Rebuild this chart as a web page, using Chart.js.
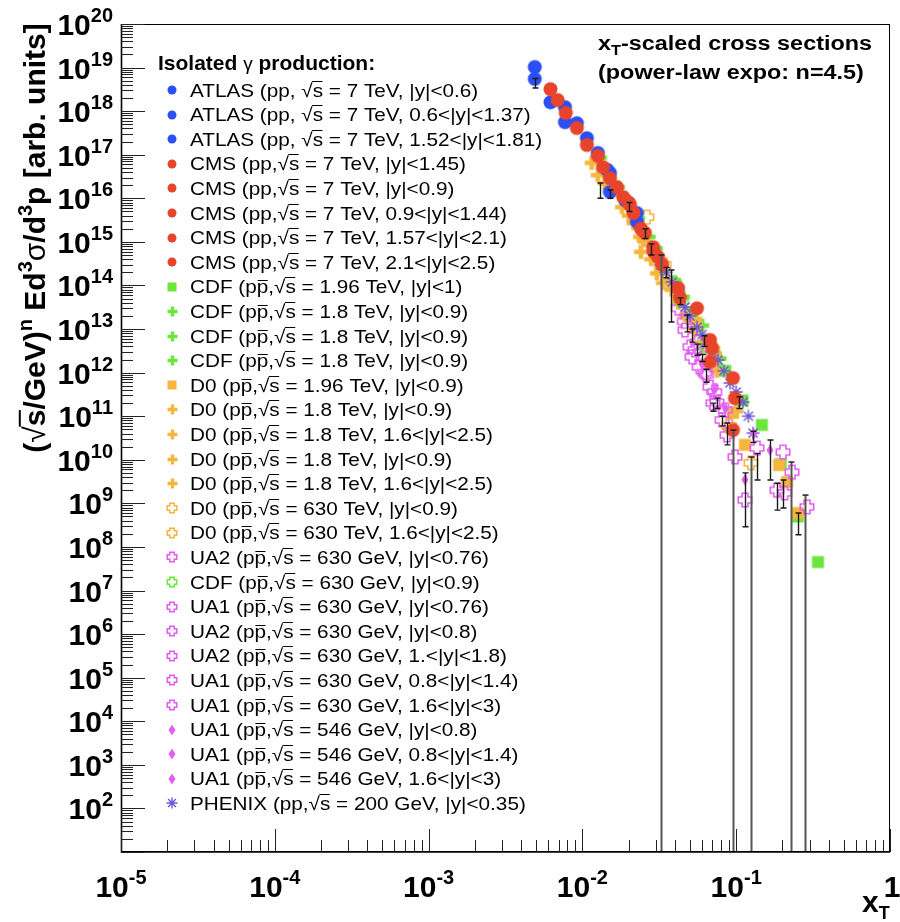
<!DOCTYPE html>
<html>
<head>
<meta charset="utf-8">
<title>xT-scaled isolated photon cross sections</title>
<script src="https://cdn.jsdelivr.net/npm/chart.js@4.4.1/dist/chart.umd.min.js"></script>
<style>
  html, body { margin: 0; padding: 0; background: #fff; }
  canvas { display: block; }
</style>
</head>
<body>
<canvas id="xtChart" width="900" height="922"></canvas>
<script>
(function () {
  const FONT = '"Liberation Sans", Arial, Helvetica, sans-serif';

  const BLUE = "#2b4ff5", RED = "#e8432b", GREEN = "#6de63c",
        ORANGE = "#f6b53d", MAGENTA = "#e35ef0", SLATE = "#6a5ad8";

  // [xT, (sqrt(s)/GeV)^n E d3sigma/d3p]
  const atlas06 = [[0.0049, 1.03e19], [0.0077, 1.24e18], [0.0107, 2.4e17], [0.0145, 4.5e16], [0.0226, 4.6e15]];
  const atlas06to137 = [[0.0049, 5.5e18], [0.0062, 1.6e18], [0.0092, 5.3e17], [0.0126, 1.1e17], [0.0151, 1.4e16], [0.0226, 2.9e15]];
  const atlas152to181 = [[0.0077, 5.6e17], [0.0151, 3.8e16], [0.0190, 9.0e15]];

  const cms145 = [[0.0062, 3.2e18], [0.0069, 1.8e18], [0.0078, 9.1e17], [0.0092, 4.1e17], [0.0107, 1.67e17],
                  [0.0126, 9.4e16], [0.0136, 5.2e16], [0.0151, 2.9e16], [0.0168, 1.8e16], [0.0184, 1.07e16],
                  [0.0204, 7.0e15], [0.0215, 4.6e15], [0.0255, 1.6e15]];
  const cms09 = [[0.0288, 7.6e14], [0.0310, 4.5e14], [0.0419, 8.7e13], [0.0431, 5.2e13], [0.0556, 3.0e13],
                 [0.0676, 5.6e12], [0.0697, 3.7e12], [0.0953, 7.5e11]];
  const cms09to144 = [[0.0676, 1.75e12], [0.0982, 2.6e11], [0.0953, 4.8e10]];
  const cms157to21 = [[0.0240, 2.0e15], [0.0330, 3.0e14]];
  const cms21to25 = [[0.0200, 8.0e15], [0.0290, 6.0e14]];

  const cdf196 = [[0.0300, 6.0e14], [0.0400, 1.1e14], [0.0520, 2.4e13], [0.0660, 5.5e12], [0.0850, 1.1e12],
                  [0.1100, 2.3e11], [0.1470, 6.3e10], [0.1950, 8.0e9], [0.2520, 5.0e8], [0.3400, 4.5e7]];
  const cdf18a = [[0.0130, 8.5e16], [0.0170, 1.8e16], [0.0230, 3.5e15], [0.0300, 7.0e14], [0.0400, 1.2e14]];
  const cdf18b = [[0.0150, 3.2e16], [0.0200, 7.5e15], [0.0270, 1.3e15]];
  const cdf18c = [[0.0450, 5.5e13], [0.0600, 1.2e13], [0.0780, 2.1e12]];

  const d0196 = [[0.0320, 2.6e14], [0.0420, 6.0e13], [0.0550, 1.4e13], [0.0720, 3.0e12], [0.0953, 1.2e11],
                 [0.1140, 2.2e10], [0.1900, 7.6e9], [0.2140, 3.1e9], [0.2520, 6.0e8]];
  const d018a = [[0.0115, 6.5e16], [0.0126, 3.4e16], [0.0181, 6.3e15], [0.0215, 2.7e15], [0.0237, 1.3e15], [0.0305, 1.9e14]];
  const d018b = [[0.0240, 5.9e14], [0.0334, 1.14e14], [0.0465, 2.1e13], [0.0540, 9.5e12]];
  const d018c = [[0.0140, 2.2e16], [0.0165, 1.6e16], [0.0200, 4.0e15], [0.0250, 1.1e15], [0.0280, 4.0e14],
                 [0.0360, 1.3e14], [0.0380, 8.0e13], [0.0480, 1.8e13]];
  const d018d = [[0.0420, 4.0e13], [0.0600, 5.0e12], [0.0750, 1.1e12], [0.1000, 1.3e11]];
  const d0630a = [[0.0263, 3.7e15], [0.0340, 3.0e14], [0.0720, 2.5e12]];
  const d0630b = [[0.1248, 8.5e9], [0.0900, 6.0e10]];

  const ua2630a = [[0.0501, 3.9e12], [0.0575, 1.35e12], [0.0676, 4.7e11], [0.0871, 3.7e10], [0.1365, 1.87e10]];
  const cdf630 = [[0.0440, 4.5e13], [0.0640, 4.0e12]];
  const ua1630a = [[0.0516, 2.3e12], [0.0706, 2.0e11], [0.0982, 1.16e10], [0.1140, 1.2e9]];
  const ua2630b = [[0.0610, 2.2e12], [0.0809, 8.2e10], [0.2015, 1.5e10], [0.2307, 5.2e9]];
  const ua2630c = [[0.0750, 2.1e11], [0.1840, 2.0e9], [0.2063, 1.73e9]];
  const ua1630b = [[0.0460, 1.5e13], [0.0465, 9.5e12], [0.0540, 3.3e12], [0.0625, 1.0e12], [0.0640, 9.0e11],
                   [0.0725, 3.6e11], [0.0850, 1.4e11], [0.2886, 8.3e8]];
  const ua1630c = [[0.0420, 3.0e13], [0.0560, 5.0e12], [0.0900, 6.0e10]];
  const ua1546a = [[0.1140, 3.5e9], [0.0600, 1.6e12]];
  const ua1546b = [[0.1660, 1.67e10], [0.0850, 1.5e11]];
  const ua1546c = [[0.0720, 4.0e11], [0.1300, 4.0e10]];

  const phenix = [[0.0324, 2.95e14], [0.0350, 2.0e14], [0.0383, 1.2e14], [0.0420, 7.0e13], [0.0465, 3.2e13],
                  [0.0500, 2.0e13], [0.0556, 1.1e13], [0.0600, 7.5e12], [0.0650, 4.5e12], [0.0700, 3.0e12],
                  [0.0762, 1.95e12], [0.0830, 1.1e12], [0.0912, 5.8e11], [0.1000, 3.6e11], [0.1107, 2.1e11],
                  [0.1200, 1.0e11], [0.1286, 4.1e10]];

  // error bars: [xT, low, high]; low 0 = runs off the bottom of the log axis
  const errBars = [[0.0049, 3.4e18, 5.6e18], [0.0130, 1.0e16, 2.25e16], [0.0151, 1.0e16, 1.55e16],
                   [0.0200, 5.0e15, 8.0e15], [0.0255, 1.2e15, 2.0e15], [0.0280, 5.0e14, 9.0e14],
                   [0.0324, 0, 5.0e14], [0.0350, 1.5e14, 2.6e14],
                   [0.0377, 1.45e13, 2.26e14], [0.0431, 3.6e13, 5.2e13], [0.0479, 8.6e12, 2.1e13],
                   [0.0516, 5.0e12, 1.0e13], [0.0556, 2.5e12, 4.5e12], [0.0600, 1.8e12, 2.6e12],
                   [0.0620, 4.0e12, 7.0e12], [0.0640, 6.0e11, 1.2e12], [0.0706, 1.3e11, 2.0e11],
                   [0.0750, 1.5e11, 2.6e11], [0.0809, 6.0e10, 1.0e11], [0.0871, 2.2e10, 7.0e10],
                   [0.0953, 0, 4.8e10], [0.1050, 1.5e11, 2.8e11], [0.1140, 2.9e8, 5.0e9], [0.1248, 0, 1.16e10],
                   [0.1286, 2.5e10, 4.5e10], [0.1365, 3.45e9, 1.4e10], [0.1660, 3.45e9, 2.85e10],
                   [0.1840, 7.0e8, 2.9e9], [0.2015, 7.8e8, 3.45e9], [0.2270, 0, 8.9e9],
                   [0.2520, 1.9e8, 6.0e8], [0.2800, 0, 1.55e9]];

  const xDecades = [1e-5, 1e-4, 1e-3, 1e-2, 1e-1, 1];
  const xDecadeText = [["10", "-5"], ["10", "-4"], ["10", "-3"], ["10", "-2"], ["10", "-1"], ["1", ""]];
  const yDecades = [1e1, 1e2, 1e3, 1e4, 1e5, 1e6, 1e7, 1e8, 1e9, 1e10, 1e11, 1e12, 1e13, 1e14, 1e15,
                    1e16, 1e17, 1e18, 1e19, 1e20];
  const yDecadeText = ["", "2", "3", "4", "5", "6", "7", "8", "9", "10", "11", "12", "13", "14", "15",
                       "16", "17", "18", "19", "20"];
  const minorMult = [2, 3, 4, 5, 6, 7, 8, 9];

  // legend order = dataset order; z = drawing layer (0 on top)
  const series = [
    { label: "ATLAS (pp, √s = 7 TeV, |y|<0.6)", pts: atlas06, mk: "circle", color: BLUE, z: 1 },
    { label: "ATLAS (pp, √s = 7 TeV, 0.6<|y|<1.37)", pts: atlas06to137, mk: "circle", color: BLUE, z: 1 },
    { label: "ATLAS (pp, √s = 7 TeV, 1.52<|y|<1.81)", pts: atlas152to181, mk: "circle", color: BLUE, z: 1 },
    { label: "CMS (pp,√s = 7 TeV, |y|<1.45)", pts: cms145, mk: "circle", color: RED, z: 0 },
    { label: "CMS (pp,√s = 7 TeV, |y|<0.9)", pts: cms09, mk: "circle", color: RED, z: 0 },
    { label: "CMS (pp,√s = 7 TeV, 0.9<|y|<1.44)", pts: cms09to144, mk: "circle", color: RED, z: 0 },
    { label: "CMS (pp,√s = 7 TeV, 1.57<|y|<2.1)", pts: cms157to21, mk: "circle", color: RED, z: 0 },
    { label: "CMS (pp,√s = 7 TeV, 2.1<|y|<2.5)", pts: cms21to25, mk: "circle", color: RED, z: 0 },
    { label: "CDF (pp\u0304,√s = 1.96 TeV, |y|<1)", pts: cdf196, mk: "square", color: GREEN, z: 5 },
    { label: "CDF (pp\u0304,√s = 1.8 TeV, |y|<0.9)", pts: cdf18a, mk: "cross", color: GREEN, z: 5 },
    { label: "CDF (pp\u0304,√s = 1.8 TeV, |y|<0.9)", pts: cdf18b, mk: "cross", color: GREEN, z: 5 },
    { label: "CDF (pp\u0304,√s = 1.8 TeV, |y|<0.9)", pts: cdf18c, mk: "cross", color: GREEN, z: 5 },
    { label: "D0 (pp\u0304,√s = 1.96 TeV, |y|<0.9)", pts: d0196, mk: "square", color: ORANGE, z: 4 },
    { label: "D0 (pp\u0304,√s = 1.8 TeV, |y|<0.9)", pts: d018a, mk: "cross", color: ORANGE, z: 4 },
    { label: "D0 (pp\u0304,√s = 1.8 TeV, 1.6<|y|<2.5)", pts: d018b, mk: "cross", color: ORANGE, z: 4 },
    { label: "D0 (pp\u0304,√s = 1.8 TeV, |y|<0.9)", pts: d018c, mk: "cross", color: ORANGE, z: 4 },
    { label: "D0 (pp\u0304,√s = 1.8 TeV, 1.6<|y|<2.5)", pts: d018d, mk: "cross", color: ORANGE, z: 4 },
    { label: "D0 (pp\u0304,√s = 630 TeV, |y|<0.9)", pts: d0630a, mk: "ocross", color: ORANGE, z: 3 },
    { label: "D0 (pp\u0304,√s = 630 TeV, 1.6<|y|<2.5)", pts: d0630b, mk: "ocross", color: ORANGE, z: 3 },
    { label: "UA2 (pp\u0304,√s = 630 GeV, |y|<0.76)", pts: ua2630a, mk: "ocross", color: MAGENTA, z: 3 },
    { label: "CDF (pp\u0304,√s = 630 GeV, |y|<0.9)", pts: cdf630, mk: "ocross", color: GREEN, z: 3 },
    { label: "UA1 (pp\u0304,√s = 630 GeV, |y|<0.76)", pts: ua1630a, mk: "ocross", color: MAGENTA, z: 3 },
    { label: "UA2 (pp\u0304,√s = 630 GeV, |y|<0.8)", pts: ua2630b, mk: "ocross", color: MAGENTA, z: 3 },
    { label: "UA2 (pp\u0304,√s = 630 GeV, 1.<|y|<1.8)", pts: ua2630c, mk: "ocross", color: MAGENTA, z: 3 },
    { label: "UA1 (pp\u0304,√s = 630 GeV, 0.8<|y|<1.4)", pts: ua1630b, mk: "ocross", color: MAGENTA, z: 3 },
    { label: "UA1 (pp\u0304,√s = 630 GeV, 1.6<|y|<3)", pts: ua1630c, mk: "ocross", color: MAGENTA, z: 3 },
    { label: "UA1 (pp\u0304,√s = 546 GeV, |y|<0.8)", pts: ua1546a, mk: "diamond", color: MAGENTA, z: 2 },
    { label: "UA1 (pp\u0304,√s = 546 GeV, 0.8<|y|<1.4)", pts: ua1546b, mk: "diamond", color: MAGENTA, z: 2 },
    { label: "UA1 (pp\u0304,√s = 546 GeV, 1.6<|y|<3)", pts: ua1546c, mk: "diamond", color: MAGENTA, z: 2 },
    { label: "PHENIX (pp,√s = 200 GeV, |y|<0.35)", pts: phenix, mk: "star", color: SLATE, z: 2 }
  ];

  const dataSize = { circle: 14, square: 12, cross: 14, ocross: 15, diamond: 12, star: 13 };
  const legendSize = { circle: 9, square: 9, cross: 10, ocross: 11, diamond: 11, star: 11 };

  // ROOT-like marker drawn into a small canvas, used as pointStyle
  function marker(kind, color, s) {
    const w = kind === "diamond" ? Math.round(s * 0.62) : s;
    const c = document.createElement("canvas");
    c.width = w + 3; c.height = s + 3;
    const g = c.getContext("2d");
    g.translate(c.width / 2, c.height / 2);
    g.fillStyle = color; g.strokeStyle = color;
    const a = s / 2;
    if (kind === "circle") {
      g.beginPath(); g.arc(0, 0, a, 0, 2 * Math.PI); g.fill();
    } else if (kind === "square") {
      g.fillRect(-a, -a, s, s);
    } else if (kind === "cross" || kind === "ocross") {
      const open = kind === "ocross";
      const r = open ? a - 0.8 : a;
      const b = open ? s * 0.2 : s / 6;
      g.beginPath();
      g.moveTo(-b, -r); g.lineTo(b, -r); g.lineTo(b, -b); g.lineTo(r, -b); g.lineTo(r, b); g.lineTo(b, b);
      g.lineTo(b, r); g.lineTo(-b, r); g.lineTo(-b, b); g.lineTo(-r, b); g.lineTo(-r, -b); g.lineTo(-b, -b);
      g.closePath();
      if (open) { g.lineWidth = 1.6; g.stroke(); } else { g.fill(); }
    } else if (kind === "diamond") {
      g.beginPath(); g.moveTo(0, -a); g.lineTo(w / 2, 0); g.lineTo(0, a); g.lineTo(-w / 2, 0); g.closePath(); g.fill();
    } else if (kind === "star") {
      g.lineWidth = 1.4;
      g.beginPath();
      for (let k = 0; k < 4; k++) {
        const ang = k * Math.PI / 4;
        g.moveTo(-a * Math.cos(ang), -a * Math.sin(ang));
        g.lineTo(a * Math.cos(ang), a * Math.sin(ang));
      }
      g.stroke();
    }
    return c;
  }

  series.forEach((s) => { s.legendMk = marker(s.mk, s.color, legendSize[s.mk]); });

  // split text so that p-bar and the radical bar over s can be drawn
  function parseLabel(str) {
    const chars = Array.from(str);
    const parts = [];
    let buf = "";
    const flush = () => { if (buf) { parts.push({ t: buf }); buf = ""; } };
    for (let i = 0; i < chars.length; i++) {
      const c = chars[i];
      if (chars[i + 1] === "\u0304") { flush(); parts.push({ t: c, over: "macron" }); i++; }
      else if (c === "√") { flush(); parts.push({ t: "√", weight: "normal" }); parts.push({ t: chars[i + 1], over: "rad" }); i++; }
      else buf += c;
    }
    flush();
    return parts;
  }

  function partsWidth(ctx, parts, size, weight) {
    let w = 0;
    parts.forEach((p) => {
      ctx.font = `${p.weight || weight} ${p.size || size}px ${FONT}`;
      w += ctx.measureText(p.t).width;
    });
    return w;
  }

  function drawParts(ctx, x, y, parts, o) {
    const size = o.size, weight = o.weight || "normal", sx = o.sx || 1;
    const total = partsWidth(ctx, parts, size, weight);
    let cx = o.align === "center" ? -total / 2 : o.align === "right" ? -total : 0;
    ctx.save();
    ctx.translate(x, y);
    if (o.rotate) ctx.rotate(o.rotate);
    ctx.scale(sx, 1);
    ctx.fillStyle = "#000"; ctx.strokeStyle = "#000";
    ctx.textBaseline = "alphabetic"; ctx.textAlign = "left";
    parts.forEach((p) => {
      const fs = p.size || size;
      ctx.font = `${p.weight || weight} ${fs}px ${FONT}`;
      const w = ctx.measureText(p.t).width;
      ctx.fillText(p.t, cx, p.dy || 0);
      if (p.over) {
        let oy = p.over === "rad" ? -0.84 * fs : -0.68 * fs;
        if (!o.rotate) oy = Math.round(y + oy) + 0.5 - y; // keep the bar on a pixel row
        ctx.lineWidth = o.rotate ? Math.max(1.1, fs / 15) : 1;
        ctx.beginPath();
        ctx.moveTo(cx + (p.over === "rad" ? -0.5 : 0.8), oy);
        ctx.lineTo(cx + w - 0.5, oy);
        ctx.stroke();
      }
      cx += w;
    });
    ctx.restore();
    return total;
  }

  function drawPow(ctx, x, y, base, exp, align) {
    return drawParts(ctx, x, y, [{ t: base }, { t: exp, size: 20, dy: -13 }],
      { size: 30, weight: "bold", align });
  }

  const framePlugin = {
    id: "frame",
    beforeDraw(chart) {
      const { ctx, width, height } = chart;
      ctx.save(); ctx.fillStyle = "#fff"; ctx.fillRect(0, 0, width, height); ctx.restore();
    },
    afterDatasetsDraw(chart) {
      const { ctx, chartArea: a, scales: { x, y } } = chart;
      ctx.save();
      ctx.beginPath(); ctx.rect(a.left, a.top, a.right - a.left, a.bottom - a.top); ctx.clip();
      errBars.forEach(([xv, lo, hi]) => {
        const px = Math.round(x.getPixelForValue(xv)) + 0.5;
        const full = lo <= 0;
        const pTop = y.getPixelForValue(hi);
        const pBot = full ? a.bottom : y.getPixelForValue(lo);
        ctx.strokeStyle = full ? "#555" : "#1a1a1a";
        ctx.lineWidth = full ? 2 : 1.4;
        ctx.beginPath(); ctx.moveTo(px, pTop); ctx.lineTo(px, pBot); ctx.stroke();
        ctx.lineWidth = 1.4; ctx.strokeStyle = "#1a1a1a";
        ctx.beginPath(); ctx.moveTo(px - 3, pTop); ctx.lineTo(px + 3, pTop);
        if (!full) { ctx.moveTo(px - 3, pBot); ctx.lineTo(px + 3, pBot); }
        ctx.stroke();
      });
      ctx.restore();
    },
    afterDraw(chart) {
      const { ctx, chartArea: a, scales: { x, y } } = chart;
      ctx.save();
      ctx.strokeStyle = "#000";
      ctx.lineWidth = 1;
      ctx.strokeRect(a.left + 0.5, a.top + 0.5, a.right - a.left - 1, a.bottom - a.top - 1);
      ctx.lineWidth = 1.6;
      ctx.beginPath();
      ctx.moveTo(a.left + 0.5, a.top); ctx.lineTo(a.left + 0.5, a.bottom);
      ctx.lineTo(a.right, a.bottom);
      ctx.stroke();

      // y ticks
      ctx.lineWidth = 1;
      ctx.strokeStyle = "#222";
      ctx.beginPath();
      yDecades.forEach((v, i) => {
        const py = Math.round(y.getPixelForValue(v)) + 0.5;
        ctx.moveTo(a.left, py); ctx.lineTo(a.left + 24, py);
        if (i < yDecades.length - 1) {
          minorMult.forEach((m) => {
            const pm = Math.round(y.getPixelForValue(v * m)) + 0.5;
            ctx.moveTo(a.left, pm); ctx.lineTo(a.left + 12, pm);
          });
        }
      });
      // x ticks
      xDecades.forEach((v, i) => {
        const px = Math.round(x.getPixelForValue(v)) + 0.5;
        ctx.moveTo(px, a.bottom); ctx.lineTo(px, a.bottom - 23);
        if (i < xDecades.length - 1) {
          minorMult.forEach((m) => {
            const pm = Math.round(x.getPixelForValue(v * m)) + 0.5;
            ctx.moveTo(pm, a.bottom); ctx.lineTo(pm, a.bottom - 12);
          });
        }
      });
      ctx.stroke();
      ctx.restore();

      // tick labels
      yDecades.forEach((v, i) => {
        if (!yDecadeText[i]) return;
        drawPow(ctx, 113, y.getPixelForValue(v) + 11, "10", yDecadeText[i], "right");
      });
      xDecades.forEach((v, i) => {
        drawPow(ctx, x.getPixelForValue(v) + (i === xDecades.length - 1 ? 2 : 0), 897,
          xDecadeText[i][0], xDecadeText[i][1], "center");
      });

      // axis titles
      drawParts(ctx, 862, 912, [{ t: "x" }, { t: "T", size: 18, dy: 7 }], { size: 30, weight: "bold" });
      drawParts(ctx, 45, 238, [
        { t: "(" }, { t: "√", weight: "normal" }, { t: "s", over: "rad" }, { t: "/GeV)" },
        { t: "n", size: 20, dy: -13 }, { t: " Ed" }, { t: "3", size: 20, dy: -13 },
        { t: "σ", weight: "normal" }, { t: "/d" }, { t: "3", size: 20, dy: -13 }, { t: "p [arb. units]" }
      ], { size: 30, weight: "bold", align: "center", rotate: -Math.PI / 2 });

      // top right caption
      drawParts(ctx, 598, 50, [{ t: "x" }, { t: "T", size: 14, dy: 5 }, { t: "-scaled cross sections" }],
        { size: 20, weight: "bold", sx: 1.17 });
      drawParts(ctx, 598, 79, [{ t: "(power-law expo: n=4.5)" }], { size: 20, weight: "bold", sx: 1.17 });

      // legend
      drawParts(ctx, 158, 70, [{ t: "Isolated " }, { t: "γ", weight: "normal", size: 19 }, { t: " production:" }],
        { size: 21, weight: "bold" });
      series.forEach((s, i) => {
        const yc = 90 + i * 24.6;
        const m = s.legendMk;
        ctx.drawImage(m, Math.round(172 - m.width / 2), Math.round(yc - m.height / 2));
        drawParts(ctx, 190, Math.round(yc + 6.5), parseLabel(s.label), { size: 18.5, sx: 1.12 });
      });
    }
  };

  const datasets = series.map((s) => ({
    label: s.label,
    data: s.pts.map(([xv, yv]) => ({ x: xv, y: yv })),
    pointStyle: marker(s.mk, s.color, dataSize[s.mk]),
    pointRadius: dataSize[s.mk] / 2,
    pointHoverRadius: dataSize[s.mk] / 2,
    backgroundColor: s.color,
    borderColor: s.color,
    showLine: false,
    order: s.z
  }));

  new Chart(document.getElementById("xtChart"), {
    type: "scatter",
    data: { datasets },
    options: {
      responsive: false,
      animation: false,
      devicePixelRatio: 1,
      layout: { padding: { left: 121, right: 10, top: 24, bottom: 70 } },
      plugins: { legend: { display: false }, tooltip: { enabled: false } },
      scales: {
        x: { type: "logarithmic", min: 1e-5, max: 1, display: false },
        y: { type: "logarithmic", min: 10, max: 1e20, display: false }
      }
    },
    plugins: [framePlugin]
  });
})();
</script>
</body>
</html>
